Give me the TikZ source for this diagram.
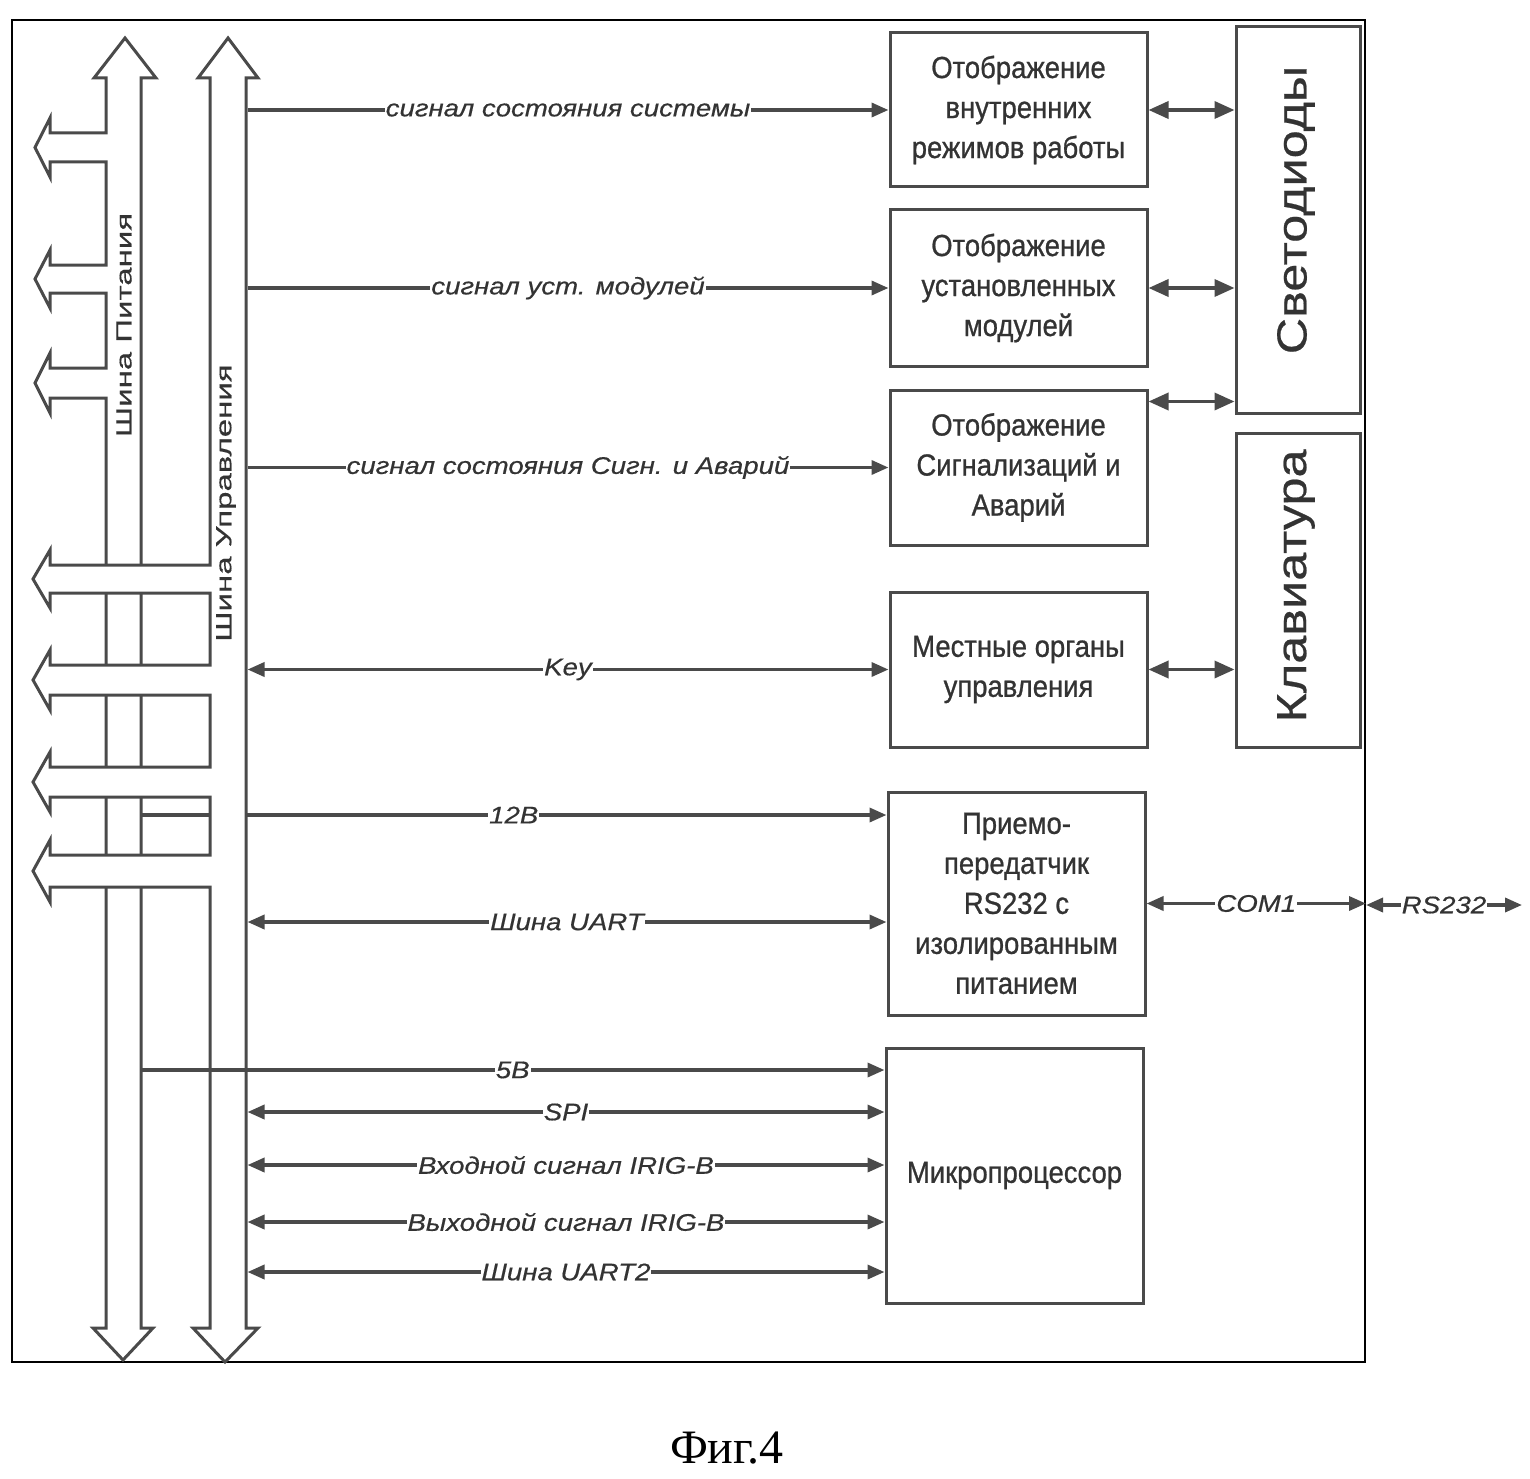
\documentclass[tikz,border=0pt]{standalone}
\usepackage{fontspec}
\setmainfont{Liberation Sans}
\newfontfamily\blk[FakeStretch=0.9,FakeBold=0.8]{Liberation Sans}
\newfontfamily\lblfont[FakeStretch=1.15,FakeBold=0.5]{Liberation Sans}
\newfontfamily\busfont[FakeStretch=1.5,FakeBold=0.4]{Liberation Sans}
\newfontfamily\sidefont[FakeStretch=1.2,FakeBold=0.5]{Liberation Sans}
\newfontfamily\figfont{Liberation Serif}
\usetikzlibrary{arrows.meta,calc}
\definecolor{ln}{HTML}{4a4a4a}
\definecolor{tx}{HTML}{333333}
\tikzset{
 blockbox/.style={draw=ln, line width=3pt, fill=white, minimum width=257pt, minimum height=#1, align=center, font=\blk\fontsize{30.5}{40}\selectfont, text=tx, inner sep=0pt},
 sidebox/.style={draw=ln, line width=3pt, fill=white, minimum width=124pt, minimum height=#1, inner sep=0pt},
 sidetext/.style={rotate=90, text=tx, font=\sidefont\fontsize{42}{46}\selectfont},
 sig/.style={draw=ln, line width=3.5pt, -{Triangle[length=17pt,width=14pt]}},
 bidir/.style={draw=ln, line width=3.5pt, {Triangle[length=17pt,width=14pt]}-{Triangle[length=17pt,width=14pt]}},
 bidirs/.style={draw=ln, line width=3.5pt, {Triangle[length=20pt,width=17pt]}-{Triangle[length=20pt,width=17pt]}},
 lbl/.style={fill=white, inner sep=1pt, text=tx, font=\lblfont\itshape\fontsize{24}{28}\selectfont},
 bus/.style={draw=ln, line width=3pt, fill=white, line join=miter},
 bustext/.style={rotate=90, text=tx, font=\busfont\fontsize{22}{26}\selectfont},
}
\begin{document}
\begin{tikzpicture}[x=1pt,y=-1pt]
\useasboundingbox (0,0) rectangle (1530,1479);
\fill[white] (0,0) rectangle (1530,1479);

% outer frame
\node[draw=black, line width=2pt, minimum width=1353pt, minimum height=1342pt, inner sep=0pt] (frame) at (688.5,691) {};

% blocks
\node[blockbox=154pt] (b1) at (1018.5,110) {Отображение\\внутренних\\режимов работы};
\node[blockbox=156pt] (b2) at (1018.5,288) {Отображение\\установленных\\модулей};
\node[blockbox=155pt] (b3) at (1018.5,467.5) {Отображение\\Сигнализаций и\\Аварий};
\node[blockbox=155pt] (b4) at (1018.5,669.5) {Местные органы\\управления};
\node[blockbox=223pt] (b5) at (1016.5,903.5) {Приемо-\\передатчик\\RS232 с\\изолированным\\питанием};
\node[blockbox=255pt] (b6) at (1014.5,1175.5) {Микропроцессор};

\node[sidebox=386pt] (sv) at (1298,220) {};
\node[sidetext] (svt) at (1296,210) {Светодиоды};
\node[sidebox=314pt] (kl) at (1298,590) {};
\node[sidetext] (klt) at (1296,586) {Клавиатура};

% power bus
\path[bus] (125,38) -- (156,78) -- (141,78) -- (141,1328) -- (153,1328) -- (123,1360) -- (93,1328) -- (106,1328)
 -- (106,398) -- (50,398) -- (50,413) -- (35,383) -- (50,353) -- (50,368) -- (106,368)
 -- (106,293) -- (50,293) -- (50,308) -- (35,279) -- (50,250) -- (50,265) -- (106,265)
 -- (106,162) -- (50,162) -- (50,177) -- (35,147.5) -- (50,118) -- (50,133) -- (106,133)
 -- (106,78) -- (94,78) -- cycle;
\node[bustext] (pbt) at (124,325) {Шина Питания};

% coordinates of connector starts
\coordinate (cbr) at (247.5,0);
\coordinate (t12) at (141,815);
\coordinate (tu) at (247.5,922);
\coordinate (t5) at (141,1070);
\coordinate (tspi) at (247.5,1112);
\coordinate (tin) at (247.5,1165);
\coordinate (tout) at (247.5,1222);
\coordinate (tu2) at (247.5,1272);
\coordinate (rsend) at (1522,905);
\coordinate (a3) at ($(b3.north east)+(0,13)$);

% 12V line passes behind the control bus
\draw[sig] (t12) -- (t12 -| b5.west) node[lbl, midway] (l12) {12В};

% control bus
\path[bus] (228,38) -- (258,78) -- (246,78) -- (246,1328) -- (258,1328) -- (225,1362) -- (193,1328) -- (210,1328)
 -- (210,887) -- (50,887) -- (50,902) -- (33,871) -- (50,840) -- (50,855) -- (210,855)
 -- (210,797) -- (50,797) -- (50,812) -- (33,782) -- (50,752) -- (50,767) -- (210,767)
 -- (210,695) -- (50,695) -- (50,710) -- (33,680) -- (50,650) -- (50,665) -- (210,665)
 -- (210,593) -- (50,593) -- (50,608) -- (33,579) -- (50,550) -- (50,565) -- (210,565)
 -- (210,78) -- (198,78) -- cycle;
\node[bustext] (cbt) at (226,503) {Шина Управления};

% signals
\draw[sig] (b1.west -| cbr) -- (b1.west) node[lbl, midway] (l1) {сигнал состояния системы};
\draw[sig] (b2.west -| cbr) -- (b2.west) node[lbl, midway] (l2) {сигнал уст. модулей};
\draw[sig] (b3.west -| cbr) -- (b3.west) node[lbl, midway] (l3) {сигнал состояния Сигн. и Аварий};
\draw[bidir] (b4.west -| cbr) -- (b4.west) node[lbl, midway] (l4) {Key};
\draw[bidir] (tu) -- (tu -| b5.west) node[lbl, midway] (lu) {Шина UART};
\draw[sig] (t5) -- (t5 -| b6.west) node[lbl, midway] (l5) {5В};
\draw[bidir] (tspi) -- (tspi -| b6.west) node[lbl, midway] (lspi) {SPI};
\draw[bidir] (tin) -- (tin -| b6.west) node[lbl, midway] (lin) {Входной сигнал IRIG-B};
\draw[bidir] (tout) -- (tout -| b6.west) node[lbl, midway] (lout) {Выходной сигнал IRIG-B};
\draw[bidir] (tu2) -- (tu2 -| b6.west) node[lbl, midway] (lu2) {Шина UART2};

% right side links
\draw[bidirs] (b1.east) -- (b1.east -| sv.west);
\draw[bidirs] (b2.east) -- (b2.east -| sv.west);
\draw[bidirs] (a3) -- (a3 -| sv.west);
\draw[bidirs] (b4.east) -- (b4.east -| kl.west);

\draw[bidir] (b5.east) -- (b5.east -| frame.east) node[lbl, midway] (lcom) {COM1};
\draw[bidir] (rsend -| frame.east) -- (rsend) node[lbl, midway] (lrs) {RS232};

\node[text=black, font=\figfont\fontsize{48}{50}\selectfont] (fig) at (727,1448) {Фиг.4};
\end{tikzpicture}
\end{document}
